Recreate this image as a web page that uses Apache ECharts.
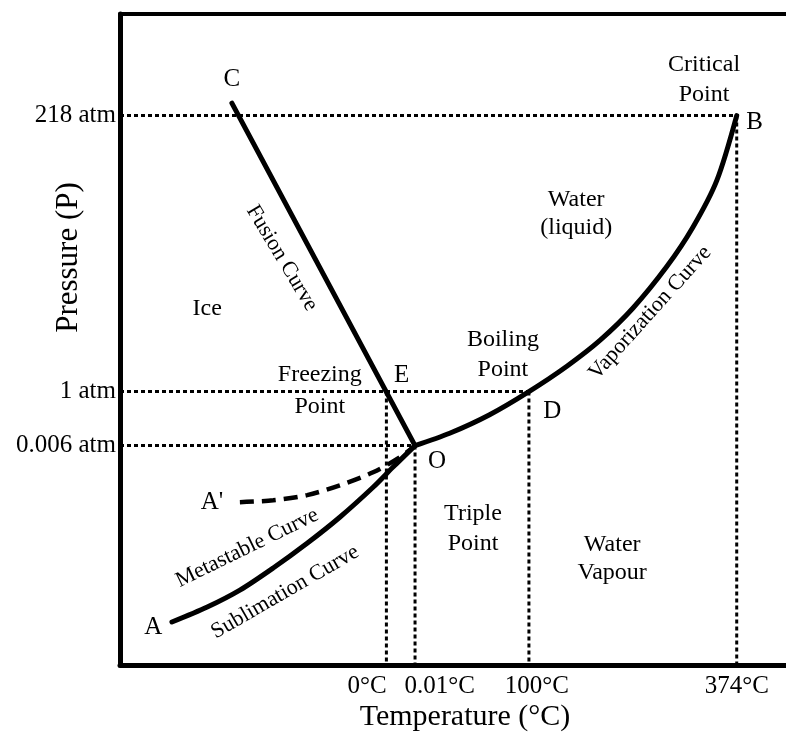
<!DOCTYPE html>
<html><head><meta charset="utf-8">
<script src="https://cdn.jsdelivr.net/npm/echarts@6/dist/echarts.min.js"></script>
<style>html,body{margin:0;padding:0;background:#fff}#c{width:786px;height:737px}</style>
</head><body><div id="c"></div>
<script>
// Schematic phase diagram of water: both axes use schematic units 0..100
const xTickLabels = ['0°C', '0.01°C', '100°C', '374°C'];
const xTickValues = [40.0, 44.3, 61.4, 92.6];
const xLabelCenters = [37.1, 48.0, 62.6, 92.6];
const yTickLabels = ['218 atm', '1 atm', '0.006 atm'];
const yTickValues = [84.4, 42.0, 33.7];

const fusionCurve = [[16.8, 86.3], [44.3, 33.7]];
const vaporizationCurve = [[44.3, 33.7], [49.5, 35.6], [55.5, 38.45], [61.4, 42.0], [67.1, 45.9], [72.1, 49.9], [77.0, 54.8], [82.1, 61.2], [86.0, 67.2], [89.6, 74.4], [92.6, 84.4]];
const sublimationCurve = [[7.8, 6.6], [13.1, 8.9], [18.0, 11.5], [23.0, 14.9], [28.1, 18.7], [33.0, 22.7], [38.0, 27.3], [41.0, 30.4], [44.3, 33.7]];
const metastableCurve = [[18.0, 25.0], [23.0, 25.3], [28.1, 26.1], [33.0, 27.6], [38.0, 29.6], [42.0, 31.9], [44.3, 33.7]];

// guide lines: [x tick index, y tick index]
const guidePairs = [[3, 0], [2, 1], [1, 2]];
const zeroGuide = [0, 1]; // 0°C vertical up to 1 atm

const annTexts = ['C', 'Critical\nPoint', 'B', 'Water\n(liquid)', 'Ice', 'Fusion Curve', 'Freezing\nPoint', 'E', 'Boiling\nPoint', 'D', 'Vaporization Curve', 'O', "A'", 'A', 'Metastable Curve', 'Sublimation Curve', 'Triple\nPoint', 'Water\nVapour'];
const annX = [16.8, 87.7, 95.3, 68.5, 13.1, 24.3, 30.0, 42.3, 57.5, 64.9, 79.6, 47.6, 13.8, 5.0, 19.1, 24.8, 53.0, 73.9];
const annY = [89.9, 89.9, 83.3, 69.3, 54.8, 62.5, 42.1, 44.5, 47.6, 38.9, 54.1, 31.2, 24.9, 5.7, 18.0, 11.2, 21.0, 16.4];
const annRotate = [0, 0, 0, 0, 0, -59, 0, 0, 0, 0, 48, 0, 0, 0, 26, 30, 0, 0];
const annSize = [25, 24, 25, 24, 24, 22, 24, 25, 24, 25, 22, 25, 25, 25, 22, 22, 24, 24];
const annLineH = [0, 30, 0, 28, 0, 0, 32, 0, 30, 0, 0, 0, 0, 0, 0, 0, 30, 28];

const FONT = "'Liberation Serif','Times New Roman',serif";
const chart = echarts.init(document.getElementById('c'), null, {renderer: 'canvas'});

const dotted = {color: '#000', width: 3, type: [4, 3], cap: 'butt'};
const series = [];
function seg(data, style, z) {
  series.push({type: 'line', data: data, symbol: 'none', lineStyle: style, z: z, silent: true, animation: false});
}
guidePairs.forEach(function (p) {
  const gx = xTickValues[p[0]], gy = yTickValues[p[1]];
  seg([[0, gy], [gx, gy]], dotted, 2);
  seg([[gx, gy], [gx, 0]], dotted, 2);
});
seg([[xTickValues[zeroGuide[0]], yTickValues[zeroGuide[1]]], [xTickValues[zeroGuide[0]], 0]], dotted, 2);

const solid = {color: '#000', width: 5, cap: 'round', join: 'round'};
seg(fusionCurve, solid, 5);
series.push({type: 'line', data: vaporizationCurve, smooth: 0.3, symbol: 'none', lineStyle: solid, z: 5, animation: false, silent: true});
series.push({type: 'line', data: sublimationCurve, smooth: 0.3, symbol: 'none', lineStyle: solid, z: 5, animation: false, silent: true});
series.push({type: 'line', data: metastableCurve, smooth: 0.3, symbol: 'none', lineStyle: {color: '#000', width: 4.5, type: [14, 8]}, z: 5, animation: false, silent: true});

series.push({
  type: 'scatter', symbolSize: 0, z: 10, animation: false, silent: true,
  itemStyle: {opacity: 1, color: '#000'},
  data: annTexts.map(function (t, i) {
    const lab = {show: true, position: 'inside', formatter: t, rotate: annRotate[i], fontSize: annSize[i],
      fontFamily: FONT, color: '#000', opacity: 1, align: 'center', verticalAlign: 'middle'};
    if (annLineH[i]) lab.lineHeight = annLineH[i];
    return {value: [annX[i], annY[i]], label: lab};
  })
});

function nearestLabel(v, vals, labels) {
  let best = -1, bd = 1e9;
  vals.forEach(function (c, i) { const d = Math.abs(c - v); if (d < bd) { bd = d; best = i; } });
  return bd < 0.5 ? labels[best] : '';
}

chart.setOption({
  animation: false,
  backgroundColor: '#fff',
  grid: {left: 120, right: 0, top: 14, bottom: 72, containLabel: false, outerBoundsMode: 'none'},
  xAxis: [{
    type: 'value', min: 0, max: 100, position: 'bottom',
    axisLine: {show: true, onZero: false, lineStyle: {color: '#000', width: 5}},
    axisTick: {show: false}, splitLine: {show: false},
    axisLabel: {show: true, customValues: xLabelCenters, margin: 9, fontSize: 25, fontFamily: FONT, color: '#000',
      formatter: function (v) { return nearestLabel(v, xLabelCenters, xTickLabels); }},
    name: 'Temperature (°C)', nameLocation: 'middle', nameGap: 37, nameMoveOverlap: false,
    nameTextStyle: {fontSize: 30, fontFamily: FONT, color: '#000', padding: [0, 0, 0, 24]}
  }, {
    type: 'value', min: 0, max: 100, position: 'top',
    axisLine: {show: true, onZero: false, lineStyle: {color: '#000', width: 4}},
    axisTick: {show: false}, splitLine: {show: false}, axisLabel: {show: false}
  }],
  yAxis: [{
    type: 'value', min: 0, max: 100,
    axisLine: {show: true, onZero: false, lineStyle: {color: '#000', width: 5}},
    axisTick: {show: false}, splitLine: {show: false},
    axisLabel: {show: true, customValues: yTickValues, margin: 4, fontSize: 25, fontFamily: FONT, color: '#000',
      formatter: function (v) { return nearestLabel(v, yTickValues, yTickLabels); }},
    name: 'Pressure (P)', nameLocation: 'middle', nameGap: 36, nameRotate: 90, nameMoveOverlap: false,
    nameTextStyle: {fontSize: 31, fontFamily: FONT, color: '#000', padding: [0, 0, 0, 164]}
  }],
  series: series
});
</script>
</body></html>
